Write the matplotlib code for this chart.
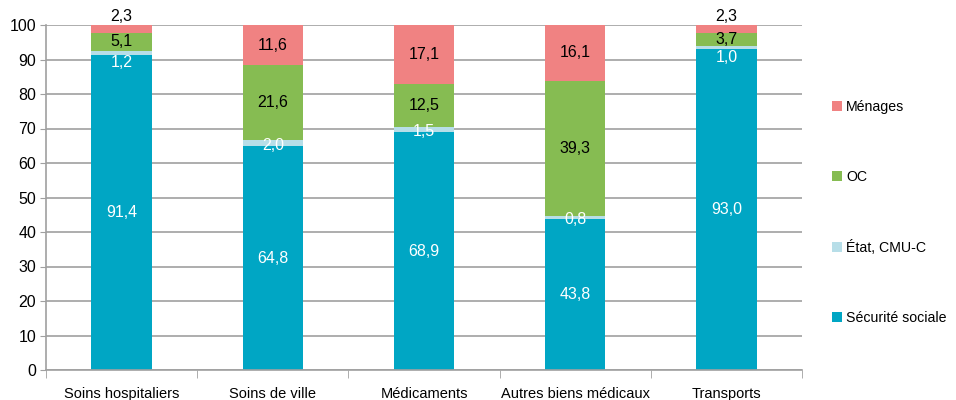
import matplotlib
matplotlib.use("Agg")
import matplotlib.pyplot as plt
import numpy as np
from matplotlib import font_manager

categories = ["Soins hospitaliers", "Soins de ville", "Médicaments",
              "Autres biens médicaux", "Transports"]
secu = [91.4, 64.8, 68.9, 43.8, 93.0]
etat = [1.2, 2.0, 1.5, 0.8, 1.0]
oc = [5.1, 21.6, 12.5, 39.3, 3.7]
menages = [2.3, 11.6, 17.1, 16.1, 2.3]

names = ["Sécurité sociale", "État, CMU-C", "OC", "Ménages"]
colors = ["#00A6C4", "#B7DEE8", "#86BC52", "#F08282"]
text_colors = ["white", "white", "black", "black"]

fams = [f.name for f in font_manager.fontManager.ttflist]
narrow = "Liberation Sans Narrow" in fams
if narrow:
    plt.rcParams["font.family"] = ["Liberation Sans Narrow", "DejaVu Sans"]
    fs_lab, fs_tick, fs_leg = 12.5, 12.5, 12.5
else:
    plt.rcParams["font.family"] = ["Liberation Sans", "DejaVu Sans"]
    fs_lab, fs_tick, fs_leg = 11.5, 10.5, 10.2

fig = plt.figure(figsize=(9.56, 4.0), dpi=100)
ax = fig.add_axes([46 / 956, 30 / 400, (802 - 46) / 956, 345 / 400])

x = np.arange(len(categories))
series = [secu, etat, oc, menages]
bottom = np.zeros(len(categories))
bars = []
for vals, name, col, tc in zip(series, names, colors, text_colors):
    b = ax.bar(x, vals, 0.4, bottom=bottom, color=col, label=name, zorder=2)
    bars.append(b)
    for i, (xi, v, bt) in enumerate(zip(x, vals, bottom)):
        y = bt + v / 2
        va = "center"
        if name == "État, CMU-C":
            # pushed down when the green segment above is thin
            y = bt + v / 2 - (3.0 if oc[i] < 6 else 0.6)
        if name == "Ménages" and v < 3:
            y = 100.3
            va = "bottom"
        ax.text(xi, y, f"{v:.1f}".replace(".", ","), ha="center", va=va,
                color=tc, fontsize=fs_lab, zorder=3)
    bottom = bottom + np.array(vals)

ax.set_xlim(-0.5, len(categories) - 0.5)
ax.set_ylim(0, 100)
ax.set_yticks(range(0, 101, 10))
ax.yaxis.grid(True, color="#A0A0A0", linewidth=1.2, zorder=0)
ax.set_axisbelow(True)
ax.tick_params(axis="y", labelsize=fs_tick + 1, length=4, color="#A0A0A0", pad=3)

ax.set_xticks(x)
ax.set_xticklabels(categories, fontsize=fs_tick)
ax.tick_params(axis="x", length=0, pad=12)
ax.set_xticks(np.arange(-0.5, len(categories)), minor=True)
ax.tick_params(axis="x", which="minor", length=6, color="#A0A0A0")

for s in ["top", "right"]:
    ax.spines[s].set_visible(False)
for s in ["left", "bottom"]:
    ax.spines[s].set_color("#A0A0A0")
    ax.spines[s].set_linewidth(1.2)

handles = [bars[3], bars[2], bars[1], bars[0]]
leg = fig.legend(handles, [names[3], names[2], names[1], names[0]],
                 loc="upper left", bbox_to_anchor=(819 / 956, 1 - 87 / 400),
                 frameon=False, fontsize=fs_leg, handlelength=0.7,
                 handleheight=0.7, handletextpad=0.3, labelspacing=3.95)

fig.savefig("out.png", dpi=100)
